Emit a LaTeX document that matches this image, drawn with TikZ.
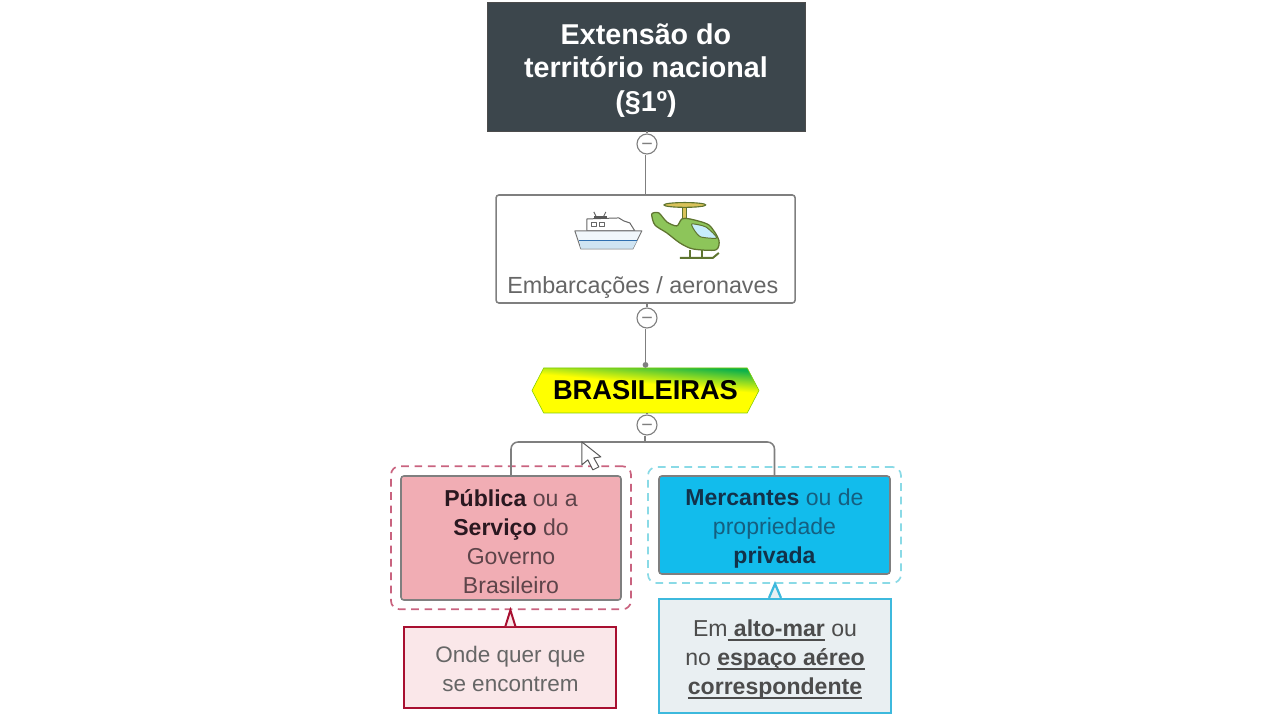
\documentclass[tikz,border=0pt]{standalone}
\usepackage{fontspec}
\setmainfont{Liberation Sans}
\usetikzlibrary{arrows.meta,shapes.symbols}
\definecolor{titlefill}{HTML}{3C464C}
\definecolor{linegray}{HTML}{7F7F7F}
\definecolor{textgray}{HTML}{666666}
\definecolor{pinkfill}{HTML}{F1ADB4}
\definecolor{pinktext}{HTML}{5E444A}
\definecolor{pinkbold}{HTML}{2A1820}
\definecolor{pinkdash}{HTML}{C9637F}
\definecolor{bluefill}{HTML}{12BCEC}
\definecolor{bluetext}{HTML}{155F80}
\definecolor{bluebold}{HTML}{12324A}
\definecolor{bluedash}{HTML}{8ADAE6}
\definecolor{rednote}{HTML}{A80F30}
\definecolor{rednotefill}{HTML}{FAE7E9}
\definecolor{bluenote}{HTML}{3DB9DD}
\definecolor{bluenotefill}{HTML}{E9EFF2}
\definecolor{flaggreen}{HTML}{0DB14B}
\definecolor{flagyellow}{HTML}{FFFF00}
\definecolor{heligreen}{HTML}{8DC55A}
\definecolor{helidark}{HTML}{5F7530}
\definecolor{rotorfill}{HTML}{D9C25A}
\definecolor{shipblue}{HTML}{CFE4F2}
\definecolor{shipline}{HTML}{2F6FB0}
\pgfdeclareverticalshading{brflag}{100bp}{color(0bp)=(flagyellow); color(56bp)=(flagyellow); color(74bp)=(flaggreen); color(100bp)=(flaggreen)}
\newlength{\ulwd}
\newcommand{\ulbold}[1]{\settowidth{\ulwd}{#1}\rlap{\rule[-3.2pt]{\ulwd}{1pt}}#1}
\newcommand{\minussign}{\raisebox{-0.32em}[0pt][0pt]{−}}
\newcommand{\lowered}[1]{\rule{0pt}{#1}}
\begin{document}
\begin{tikzpicture}[
        title_box/.style={rectangle, draw=black!70, fill=titlefill, text=white, align=center, minimum width=7.95cm, minimum height=3.225cm, font=\fontsize{20.4}{24}\selectfont\bfseries},
        collapse/.style={circle, draw=linegray, thick, fill=white, text=linegray, minimum size=0.5cm, inner sep=0pt, font=\fontsize{14}{14}\selectfont},
        icon_box/.style={rectangle, draw=linegray, line width=1.1pt, rounded corners=2pt, minimum width=7.475cm, minimum height=2.7cm},
        icon_label/.style={text=textgray, font=\fontsize{16.6}{20}\selectfont},
        hexagon/.style={signal, signal to=west and east, signal pointer angle=125, draw=black!40!green!50!yellow, shading=brflag, shading angle=-5, minimum width=5.675cm, minimum height=1.125cm, inner sep=0pt, font=\fontsize{19.4}{22}\selectfont\bfseries},
        pink_box/.style={rectangle, draw=linegray, line width=1.1pt, fill=pinkfill, text=pinktext, rounded corners=2pt, align=center, minimum width=5.5cm, minimum height=3.1cm, font=\fontsize{16.4}{20.6}\selectfont},
        blue_box/.style={rectangle, draw=linegray, line width=1.1pt, fill=bluefill, text=bluetext, rounded corners=2pt, align=center, minimum width=5.775cm, minimum height=2.45cm, font=\fontsize{16.4}{20.6}\selectfont},
        pink_dash/.style={rectangle, draw=pinkdash, line width=1.2pt, dash pattern=on 5.5pt off 4pt, rounded corners=6pt, minimum width=6cm, minimum height=3.575cm},
        blue_dash/.style={rectangle, draw=bluedash, line width=1.2pt, dash pattern=on 5.5pt off 4pt, rounded corners=6pt, minimum width=6.325cm, minimum height=2.9cm},
        red_note/.style={rectangle, draw=rednote, line width=1.4pt, fill=rednotefill, text=textgray, align=center, minimum width=5.3cm, minimum height=2.02cm, font=\fontsize{16}{20.6}\selectfont},
        blue_note/.style={rectangle, draw=bluenote, line width=1.6pt, fill=bluenotefill, text=black!70, align=center, minimum width=5.8cm, minimum height=2.85cm, font=\fontsize{16.4}{20.6}\selectfont},
        conn/.style={draw=linegray, line width=1.1pt}
    ]
        \useasboundingbox (0,0) rectangle (32,18);

        % Title
        \node[title_box] (title) at (16.15,16.34) {\lowered{20.6pt}Extensão do\\território nacional\\(§1º)};
        \node[collapse] (col_a) at (16.175,14.4) {\minussign};

        % Embarcacoes
        \node[icon_box] (vessels) at (16.14,11.775) {};
        \node[icon_label] (vessels_label) at (16.07,10.82) {Embarcações / aeronaves};
        \node[collapse] (col_b) at (16.175,10.05) {\minussign};

        % Brasileiras
        \node[hexagon] (brasileiras) at (16.137,8.238) {BRASILEIRAS};
        \node[collapse] (col_c) at (16.175,7.375) {\minussign};

        % Dashed frames
        \node[pink_dash] (pink_frame) at (12.775,4.556) {};
        \node[blue_dash] (blue_frame) at (19.362,4.875) {};

        % Public and private
        \node[pink_box] (publica) at (12.775,4.55) {\lowered{17pt}\textbf{\color{pinkbold}Pública} ou a\\\textbf{\color{pinkbold}Serviço} do\\Governo\\Brasileiro};
        \node[blue_box] (mercantes) at (19.362,4.875) {\lowered{17pt}\textbf{\color{bluebold}Mercantes} ou de\\propriedade\\\textbf{\color{bluebold}privada}};

        % Notes
        \node[red_note] (note_a) at (12.76,1.31) {\lowered{14pt}Onde quer que\\se encontrem};
        \node[blue_note] (note_b) at (19.375,1.6) {\lowered{16.5pt}Em\ulbold{\ \textbf{alto-mar}} ou\\no \ulbold{\textbf{espaço aéreo}}\\\ulbold{\textbf{correspondente}}};
        \fill[rednotefill] ([xshift=-0.125cm]note_a.north) -- (pink_frame.south -| note_a.north) -- ([xshift=0.125cm]note_a.north) -- cycle;
        \fill[bluenotefill] ([xshift=-0.15cm]note_b.north) -- (blue_frame.south -| note_b.north) -- ([xshift=0.15cm]note_b.north) -- cycle;
        \draw[draw=rednote, line width=1.4pt] ([xshift=-0.125cm]note_a.north) -- (pink_frame.south -| note_a.north) -- ([xshift=0.125cm]note_a.north);
        \draw[draw=bluenote, line width=1.6pt] ([xshift=-0.15cm]note_b.north) -- (blue_frame.south -| note_b.north) -- ([xshift=0.15cm]note_b.north);

        % Connectors
        \draw[conn] (title.south -| col_a) -- (col_a);
        \draw[conn] (vessels.north) -- (vessels.north |- col_a.south);
        \draw[conn] (vessels.south -| col_b) -- (col_b);
        \draw[conn, -{Circle[length=4pt]}] (brasileiras.north |- col_b.south) -- (brasileiras.north);
        \draw[conn] (brasileiras.south -| col_c) -- (col_c);
        \coordinate (bus) at (16.125,6.95);
        \draw[conn] (col_c.south -| bus) -- (bus);
        \draw[conn, rounded corners=5pt] (publica.north) |- (bus) -| (mercantes.north);

        % Ship and helicopter, in picture pixels
        \begin{scope}[shift={(0,18)}, x=0.025cm, y=-0.025cm, line join=round]
            \draw[black!60, line width=0.7pt, fill=white] (587,231) -- (587,219) -- (619,218) -- (624,221) -- (630,223) -- (635,231) -- cycle;
            \fill[black!65] (594,216) rectangle (607,219);
            \draw[black!60, line width=0.7pt] (596,216) -- (594,212) (604,216) -- (606,212);
            \draw[black!60, line width=0.7pt, fill=white] (592,223) rectangle (597,227) (600,223) rectangle (605,227);
            \draw[black!55, line width=0.7pt, fill=shipblue!30] (575,231) -- (642,231) -- (633,249) -- (581,249) -- cycle;
            \fill[shipblue] (579.5,241) -- (637,241) -- (633,248.7) -- (581,248.7) -- cycle;
            \draw[shipline, line width=0.8pt] (579,241) -- (637,241);
            \draw[helidark, line width=1.2pt] (690,250) -- (690,257) (702,250) -- (702,257);
            \draw[helidark, line width=1.4pt] (680,258) -- (713,258) -- (719,253);
            \draw[helidark, fill=rotorfill, line width=0.8pt] (683,207) rectangle (687,219);
            \draw[helidark, fill=rotorfill, line width=0.8pt] (685,205) ellipse (21 and 2.4);
            \draw[helidark, fill=heligreen, line width=0.9pt] plot[smooth cycle, tension=0.45] coordinates {(652,214) (659,213) (667,222) (677,226) (682,219) (690,219) (709,225) (719,240) (716,250) (693,249) (680,243) (667,233) (655,225)};
            \draw[helidark, fill=cyan!22, line width=0.7pt] plot[smooth cycle, tension=0.4] coordinates {(692,224) (706,227) (717,238) (701,237) (695,231)};
        \end{scope}

        % Mouse pointer
        \begin{scope}[shift={(0,18)}, x=0.025cm, y=-0.025cm]
            \draw[black!65, line width=0.7pt, fill=white, line join=round] (582,442) -- (582,465) -- (588,460) -- (593,470) -- (599,467) -- (594,458) -- (601,457) -- cycle;
        \end{scope}
    \end{tikzpicture}
\end{document}
